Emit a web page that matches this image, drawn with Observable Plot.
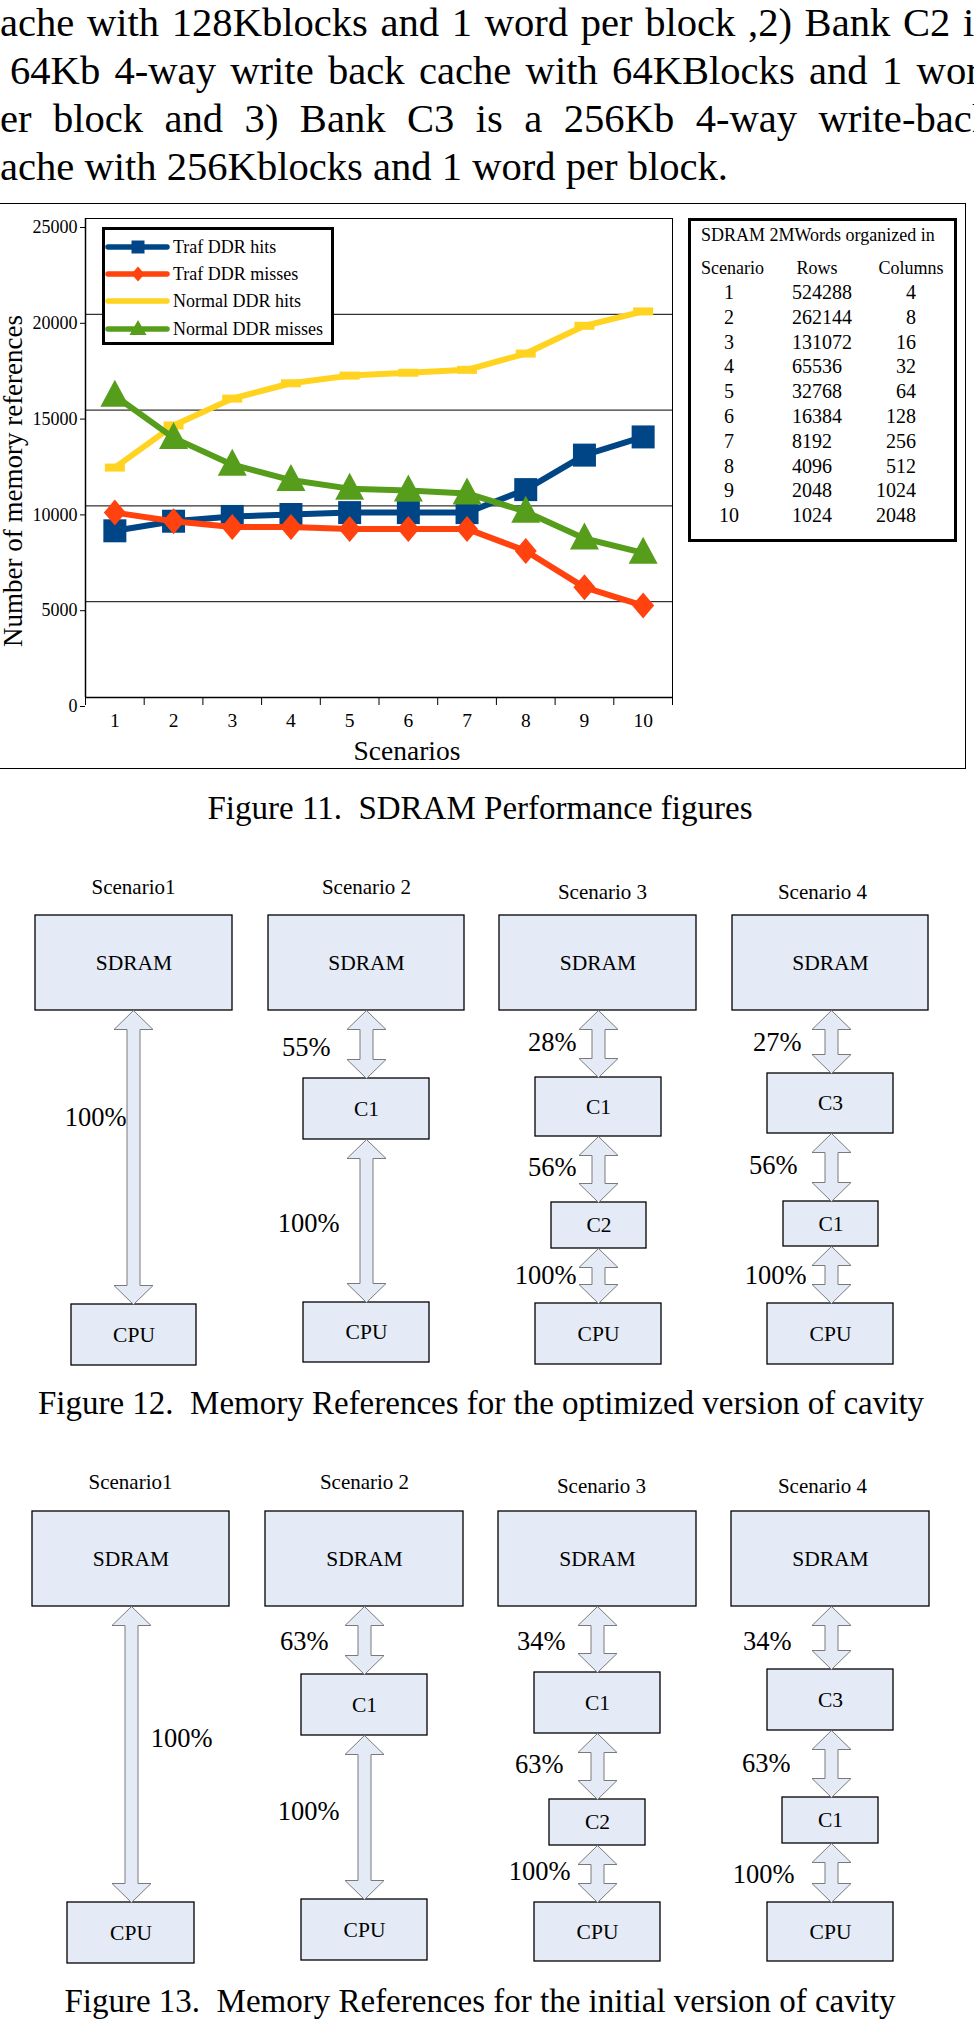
<!DOCTYPE html>
<html><head><meta charset="utf-8">
<script src="https://cdn.jsdelivr.net/npm/d3@7"></script>
<script src="https://cdn.jsdelivr.net/npm/@observablehq/plot@0.6"></script>
<style>
html,body{margin:0;padding:0;background:#fff;}
body{width:974px;height:2028px;overflow:hidden;position:relative;font-family:"Liberation Serif","Times New Roman",serif;color:#000;}
.abs{position:absolute;}
.pline{position:absolute;font-size:40.6px;line-height:40px;height:40px;overflow:visible;}
.pline.just{text-align:justify;text-align-last:justify;}
.pline.plain{white-space:nowrap;}
.cap{position:absolute;white-space:nowrap;font-size:33px;line-height:33px;transform:translateX(-50%);}
.plot{position:absolute;left:0;}
.legend{position:absolute;left:102px;top:227px;width:232px;height:118px;border:3px solid #000;box-sizing:border-box;background:#fff;}
.legend .lt{position:absolute;left:68px;font-size:18px;line-height:18px;white-space:nowrap;transform:translateY(-50%);}
.table{position:absolute;left:688px;top:218px;width:269px;height:324px;border:3px solid #000;box-sizing:border-box;background:#fff;}
.table div{position:absolute;white-space:nowrap;line-height:20px;transform:translateY(-50%);}
</style></head><body>
<script>
const FONT = '"Liberation Serif","Times New Roman",serif';

// ---------------- DATA ----------------
const paraLines = [
  "ache with 128Kblocks and 1 word per block ,2) Bank C2 is",
  "64Kb 4-way write back cache with 64KBlocks and 1 word",
  "er block and 3) Bank C3 is a 256Kb 4-way write-back",
  "ache with 256Kblocks and 1 word per block."
];
const scenarios = [1, 2, 3, 4, 5, 6, 7, 8, 9, 10];
const seriesNames = ["Traf DDR hits", "Traf DDR misses", "Normal DDR hits", "Normal DDR misses"];
const trafHits     = [8700, 9200, 9450, 9550, 9650, 9650, 9650, 10850, 12650, 13600];
const trafMisses   = [9650, 9200, 8900, 8900, 8800, 8800, 8800, 7650, 5750, 4800];
const normalHits   = [12000, 14200, 15600, 16400, 16800, 16950, 17100, 17950, 19400, 20150];
const normalMisses = [15750, 13550, 12150, 11350, 10900, 10800, 10650, 9700, 8300, 7550];
const yTicks = [0, 5000, 10000, 15000, 20000, 25000];
const yTitle = "Number of memory references";
const xTitle = "Scenarios";

const tableTitle = "SDRAM 2MWords organized in";
const tableHeaders = ["Scenario", "Rows", "Columns"];
const tableRows = [524288, 262144, 131072, 65536, 32768, 16384, 8192, 4096, 2048, 1024];
const tableCols = [4, 8, 16, 32, 64, 128, 256, 512, 1024, 2048];

const captions = [
  "Figure 11.  SDRAM Performance figures",
  "Figure 12.  Memory References for the optimized version of cavity",
  "Figure 13.  Memory References for the initial version of cavity"
];

const diagScenarioLabels = ["Scenario1", "Scenario 2", "Scenario 3", "Scenario 4"];
const diagNodes = [["SDRAM", "CPU"], ["SDRAM", "C1", "CPU"], ["SDRAM", "C1", "C2", "CPU"], ["SDRAM", "C3", "C1", "CPU"]];
const fig12Pct = [["100%"], ["55%", "100%"], ["28%", "56%", "100%"], ["27%", "56%", "100%"]];
const fig13Pct = [["100%"], ["63%", "100%"], ["34%", "63%", "100%"], ["34%", "63%", "100%"]];

// ---------------- LAYOUT / STYLE ----------------
const paraLayout = [
  {left: 0, width: 990, base: 37},
  {left: 10, width: 990, base: 85},
  {left: 0, width: 992, base: 133},
  {left: 0, width: null, base: 181}
];
const capLayout = [{x: 480, base: 820}, {x: 481, base: 1415}, {x: 480, base: 2013}];
const colors = ["#004586", "#ff420e", "#ffd320", "#579d1c"];

const fig12Layout = {
  top: 860, height: 520,
  titles: [[133, 887], [366, 887], [602, 892], [822, 892]],
  arrowX: [133, 366, 598, 831],
  boxes: [
    [[35, 232, 915, 1010], [71, 196, 1304, 1365]],
    [[268, 464, 915, 1010], [303, 429, 1078, 1139], [303, 429, 1302, 1362]],
    [[499, 696, 915, 1010], [535, 661, 1077, 1136], [551, 646, 1202, 1248], [535, 661, 1303, 1364]],
    [[732, 928, 915, 1010], [767, 893, 1073, 1133], [783, 878, 1201, 1246], [767, 893, 1303, 1364]]
  ],
  pct: [[[126, 1117]], [[330, 1047], [339, 1223]], [[576, 1042], [576, 1167], [576, 1275]], [[801, 1042], [797, 1165], [806, 1275]]]
};
const fig13Layout = {
  top: 1440, height: 540,
  titles: [[130, 1482], [364, 1482], [601, 1486], [822, 1486]],
  arrowX: [131, 364, 597, 831],
  boxes: [
    [[32, 229, 1511, 1606], [67, 194, 1902, 1963]],
    [[265, 463, 1511, 1606], [301, 427, 1674, 1735], [301, 427, 1899, 1960]],
    [[498, 696, 1511, 1606], [534, 660, 1672, 1733], [549, 645, 1799, 1845], [534, 660, 1902, 1961]],
    [[731, 929, 1511, 1606], [767, 893, 1669, 1730], [782, 878, 1797, 1843], [767, 893, 1902, 1961]]
  ],
  pct: [[[212, 1738]], [[328, 1641], [339, 1811]], [[565, 1641], [563, 1764], [570, 1871]], [[791, 1641], [790, 1763], [794, 1874]]]
};

// ---------------- PARAGRAPH ----------------
paraLines.forEach((t, i) => {
  const L = paraLayout[i];
  const d = document.createElement("div");
  d.className = "pline " + (L.width ? "just" : "plain");
  d.textContent = t;
  d.style.left = L.left + "px";
  d.style.top = (L.base - 33.8) + "px";
  if (L.width) d.style.width = L.width + "px";
  document.body.appendChild(d);
});

// ---------------- CAPTIONS ----------------
captions.forEach((t, i) => {
  const d = document.createElement("div");
  d.className = "cap";
  d.textContent = t;
  d.style.whiteSpace = "pre";
  d.style.left = capLayout[i].x + "px";
  d.style.top = (capLayout[i].base - 27.6) + "px";
  document.body.appendChild(d);
});

// ---------------- CHART (Figure 11) ----------------
const frame = document.createElement("div");
frame.className = "abs";
Object.assign(frame.style, {left: "-3px", top: "203px", width: "969px", height: "566px", border: "1.5px solid #000", boxSizing: "border-box"});
document.body.appendChild(frame);

const seriesValues = [trafHits, trafMisses, normalHits, normalMisses];
const rows = seriesNames.flatMap((name, k) => scenarios.map((s, i) => ({scenario: s, series: name, value: seriesValues[k][i]})));

function poly(points) {
  return {draw(ctx) { ctx.moveTo(points[0][0], points[0][1]); for (const p of points.slice(1)) ctx.lineTo(p[0], p[1]); ctx.closePath(); }};
}
const symSquare = poly([[-11.5, -11.5], [11.5, -11.5], [11.5, 11.5], [-11.5, 11.5]]);
const symDiamond = poly([[0, -13], [11, 0], [0, 13], [-11, 0]]);
const symDash = poly([[-10, -4], [10, -4], [10, 4], [-10, 4]]);
const symTriangle = poly([[0, -16], [14.5, 11], [-14.5, 11]]);
const symbols = [symSquare, symDiamond, symDash, symTriangle];

const seriesMarks = seriesNames.flatMap((name, k) => {
  const data = rows.filter(d => d.series === name);
  return [
    Plot.line(data, {x: "scenario", y: "value", stroke: colors[k], strokeWidth: 6, strokeLinejoin: "round"}),
    Plot.dot(data, {x: "scenario", y: "value", symbol: () => symbols[k], fill: colors[k], stroke: "none", r: 5})
  ];
});

const xBoundaries = d3.range(0.5, 11, 1);
const chart = Plot.plot({
  width: 974, height: 572,
  marginLeft: 85, marginRight: 302, marginTop: 18, marginBottom: 75,
  x: {domain: [0.5, 10.5], axis: null},
  y: {domain: [0, 25000], axis: null},
  symbol: {type: "identity"},
  style: {fontFamily: FONT, background: "transparent", overflow: "visible", color: "#000"},
  marks: [
    Plot.ruleY(yTicks.filter(d => d > 0), {stroke: "#000", strokeWidth: 1}),
    Plot.ruleX([10.5], {stroke: "#000", strokeWidth: 1}),
    Plot.ruleY([0], {stroke: "#000", strokeWidth: 1.5}),
    Plot.ruleX([0.5], {stroke: "#000", strokeWidth: 1.5}),
    Plot.axisY({ticks: yTicks, tickSize: 5, tickPadding: 3, fontSize: 18, dy: 9, tickFormat: d3.format("d"), label: null, stroke: "#000", fill: "#000"}),
    Plot.axisX({ticks: scenarios, tickSize: 0, tickPadding: 16, fontSize: 19.5, tickFormat: d3.format("d"), label: null, fill: "#000"}),
    Plot.axisX({ticks: xBoundaries, tickSize: 8, tickFormat: () => "", label: null, stroke: "#000"}),
    ...seriesMarks,
    Plot.text([yTitle], {text: d => d, x: () => 0.5, y: () => 11300, textAnchor: "middle", lineAnchor: "middle", dx: -72, rotate: -90, fontSize: 27, fontFamily: FONT, fill: "#000"}),
    Plot.text([xTitle], {text: d => d, frameAnchor: "bottom", textAnchor: "middle", lineAnchor: "middle", dx: 28, dy: 54, fontSize: 27.5, fontFamily: FONT, fill: "#000"})
  ]
});
chart.classList.add("plot");
chart.style.top = "200px";
document.body.appendChild(chart);

// Legend
const legend = document.createElement("div");
legend.className = "legend";
const legY = [17, 44, 71, 99];
const svgNS = "http://www.w3.org/2000/svg";
const lsvg = document.createElementNS(svgNS, "svg");
lsvg.setAttribute("width", 70); lsvg.setAttribute("height", 112);
Object.assign(lsvg.style, {position: "absolute", left: "0px", top: "0px"});
const legSym = [
  "M-6.5,-6.5L6.5,-6.5L6.5,6.5L-6.5,6.5Z",
  "M0,-7.5L6.5,0L0,7.5L-6.5,0Z",
  "",
  "M0,-9L8.5,6L-8.5,6Z"
];
seriesNames.forEach((name, k) => {
  const y = legY[k];
  const ln = document.createElementNS(svgNS, "line");
  ln.setAttribute("x1", 3); ln.setAttribute("x2", 62); ln.setAttribute("y1", y); ln.setAttribute("y2", y);
  ln.setAttribute("stroke", colors[k]); ln.setAttribute("stroke-width", 5.5); ln.setAttribute("stroke-linecap", "round");
  lsvg.appendChild(ln);
  if (legSym[k]) {
    const p = document.createElementNS(svgNS, "path");
    p.setAttribute("d", legSym[k]); p.setAttribute("fill", colors[k]);
    p.setAttribute("transform", `translate(33,${y})`);
    lsvg.appendChild(p);
  }
  const t = document.createElement("div");
  t.className = "lt"; t.textContent = name; t.style.top = y + "px";
  legend.appendChild(t);
});
legend.appendChild(lsvg);
document.body.appendChild(legend);

// Table
const table = document.createElement("div");
table.className = "table";
function cell(text, x, y, anchor, size) {
  const d = document.createElement("div");
  d.textContent = text;
  d.style.top = y + "px";
  d.style.fontSize = size + "px";
  if (anchor === "start") d.style.left = x + "px";
  else if (anchor === "end") { d.style.right = (263 - x) + "px"; }
  else { d.style.left = x + "px"; d.style.transform = "translate(-50%,-50%)"; }
  table.appendChild(d);
}
cell(tableTitle, 10, 14, "start", 18);
cell(tableHeaders[0], 10, 47, "start", 18);
cell(tableHeaders[1], 126, 47, "middle", 18);
cell(tableHeaders[2], 220, 47, "middle", 18);
scenarios.forEach((s, i) => {
  const y = 71 + i * 24.8;
  cell(String(s), 38, y, "middle", 20);
  cell(String(tableRows[i]), 101, y, "start", 20);
  cell(String(tableCols[i]), 225, y, "end", 20);
});
document.body.appendChild(table);

// ---------------- DIAGRAMS (Figures 12, 13) ----------------
function diagram(layout, pcts) {
  const hw = 19.5, sw = 6.5, hl = 19;
  const boxes = [], arrows = [], labels = [], titles = [];
  diagNodes.forEach((nodes, s) => {
    titles.push({x: layout.titles[s][0], y: layout.titles[s][1], text: diagScenarioLabels[s]});
    nodes.forEach((name, i) => {
      const [x1, x2, y1, y2] = layout.boxes[s][i];
      boxes.push({x1, x2, y1, y2, name, cx: (x1 + x2) / 2, cy: (y1 + y2) / 2});
    });
    for (let i = 0; i < nodes.length - 1; i++) {
      const ya = layout.boxes[s][i][3], yb = layout.boxes[s][i + 1][2];
      const cx = layout.arrowX[s];
      const pts = [[0, ya], [hw, ya + hl], [sw, ya + hl], [sw, yb - hl], [hw, yb - hl], [0, yb],
                   [-hw, yb - hl], [-sw, yb - hl], [-sw, ya + hl], [-hw, ya + hl], [0, ya]];
      pts.forEach(([dx, y]) => arrows.push({id: `${s}-${i}`, x: cx + dx, y}));
      labels.push({x: layout.pct[s][i][0], y: layout.pct[s][i][1], text: pcts[s][i]});
    }
  });
  const p = Plot.plot({
    width: 974, height: layout.height, margin: 0,
    x: {domain: [0, 974], range: [0, 974], axis: null},
    y: {domain: [layout.top, layout.top + layout.height], range: [0, layout.height], axis: null},
    style: {fontFamily: FONT, background: "transparent", overflow: "visible", color: "#000"},
    marks: [
      Plot.text(titles, {x: "x", y: "y", text: "text", fontSize: 21, fontFamily: FONT, fill: "#000"}),
      Plot.rect(boxes, {x1: "x1", x2: "x2", y1: "y1", y2: "y2", fill: "#e4ebf6", stroke: "#000", strokeWidth: 1.3}),
      Plot.text(boxes, {x: "cx", y: "cy", text: "name", fontSize: 21.5, fontFamily: FONT, fill: "#000"}),
      Plot.line(arrows, {x: "x", y: "y", z: "id", fill: "#e4ebf6", stroke: "#7a7a7a", strokeWidth: 1}),
      Plot.text(labels, {x: "x", y: "y", text: "text", textAnchor: "end", fontSize: 26.5, fontFamily: FONT, fill: "#000"})
    ]
  });
  p.classList.add("plot");
  p.style.top = layout.top + "px";
  document.body.appendChild(p);
}
diagram(fig12Layout, fig12Pct);
diagram(fig13Layout, fig13Pct);
</script>
</body></html>
